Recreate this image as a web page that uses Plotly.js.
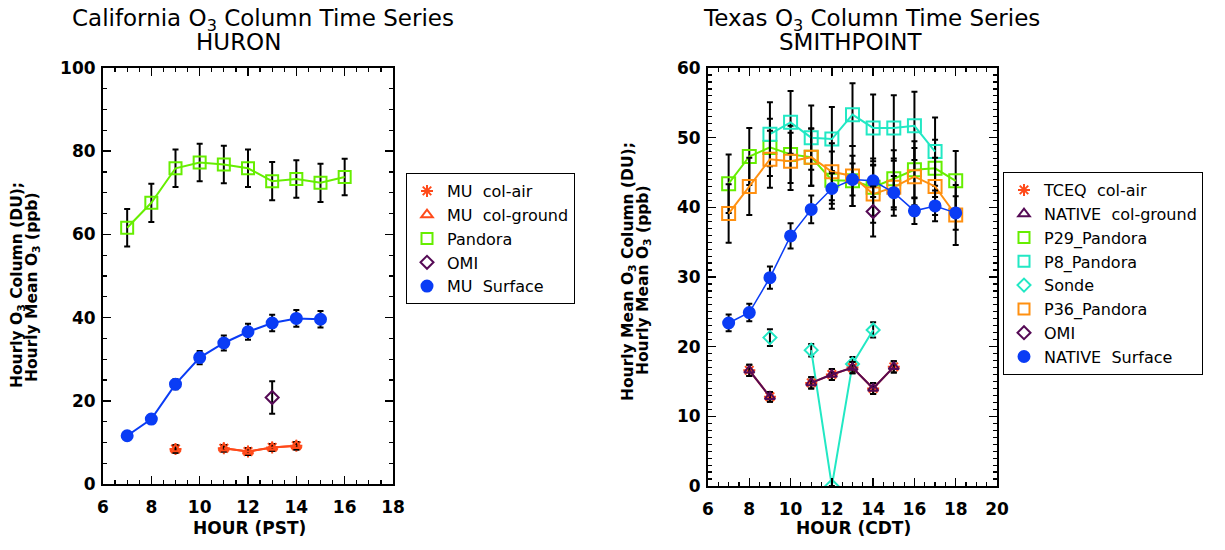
<!DOCTYPE html>
<html>
<head>
<meta charset="utf-8">
<script src="https://cdn.plot.ly/plotly-3.0.1.min.js"></script>
<style>html,body{margin:0;padding:0;background:#fff;}#chart{width:1225px;height:550px;}</style>
</head>
<body>
<div id="chart"></div>
<script>
// ---------- California (HURON) ----------
const caHours = [7, 8, 9, 10, 11, 12, 13, 14, 15, 16];
const caPandora = [61.6, 67.6, 75.9, 77.3, 76.8, 75.9, 72.8, 73.3, 72.4, 73.8];
const caPandoraErr = [4.5, 4.6, 4.5, 4.5, 4.5, 4.5, 4.6, 4.5, 4.6, 4.4];
const caSurfHours = [7, 8, 9, 10, 11, 12, 13, 14, 15];
const caSurface = [11.6, 15.6, 24.0, 30.4, 33.9, 36.6, 38.7, 39.8, 39.6];
const caSurfaceErr = [0.6, 0.7, 1.2, 1.6, 1.8, 1.9, 2.0, 2.0, 2.0];
const caColHours = [9, 10, 11, 12, 13, 14];
const caColAir = [8.4, null, 8.6, 7.8, 8.8, 9.2];
const caColAirErr = [0.9, null, 0.8, 0.8, 0.8, 0.9];
const caColGround = [8.4, null, 8.6, 7.8, 8.8, 9.2];
const caColGroundErr = [0.9, null, 0.8, 0.8, 0.8, 0.9];
const caOmiHours = [13];
const caOmi = [20.8];
const caOmiErr = [3.9];

// ---------- Texas (SMITHPOINT) ----------
const txHours = [7, 8, 9, 10, 11, 12, 13, 14, 15, 16, 17, 18];
const txP29 = [43.4, 47.3, 48.6, 47.6, 47.2, 43.9, 43.8, 42.9, 44.1, 45.4, 45.6, 43.8];
const txP29Err = [4.2, 4.1, 4.1, 4.1, 4.1, 4.1, 3.6, 4.1, 4.1, 4.1, 4.1, 4.3];
const txP36 = [39.1, 43.0, 46.9, 46.6, 47.2, 45.1, 44.5, 41.9, 42.9, 44.4, 43.0, 38.9];
const txP36Err = [4.2, 4.1, 4.1, 4.1, 4.1, 4.1, 4.3, 4.1, 4.1, 4.1, 4.1, 4.3];
const txP8Hours = [9, 10, 11, 12, 13, 14, 15, 16, 17];
const txP8 = [50.5, 52.2, 50.0, 49.8, 53.3, 51.4, 51.4, 51.7, 48.0];
const txP8Err = [4.6, 4.5, 4.6, 4.6, 4.5, 4.8, 4.7, 4.9, 4.9];
const txSurface = [23.4, 24.9, 29.9, 35.9, 39.7, 42.7, 44.0, 43.8, 42.1, 39.5, 40.2, 39.2];
const txSurfaceErr = [1.2, 1.25, 1.6, 1.8, 2.0, 2.2, 2.3, 2.3, 2.4, 1.9, 2.2, 2.4];
const txSondeHours = [9, 10, 11, 12, 13, 14];
const txSonde = [21.3, null, 19.5, 0, 17.5, 22.4];
const txSondeErr = [1.2, null, 0.9, 0, 1.0, 1.1];
const txColHours = [8, 9, 10, 11, 12, 13, 14, 15];
const txColAir = [16.6, 12.8, null, 14.8, 16.0, 17.0, 14.0, 17.1];
const txColAirErr = [0.8, 0.7, null, 0.8, 0.8, 0.8, 0.8, 0.8];
const txColGround = [16.6, 12.8, null, 14.8, 16.0, 17.0, 14.0, 17.1];
const txColGroundErr = [0.8, 0.7, null, 0.8, 0.8, 0.8, 0.8, 0.8];
const txOmiHours = [14];
const txOmi = [39.4];
const txOmiErr = [3.6];

// ---------- styles ----------
const C_RED = '#ff4a1a';
const C_GREEN = '#66ee00';
const C_CYAN = '#22e8c4';
const C_ORANGE = '#ff9010';
const C_PURPLE = '#550a55';
const C_BLUE = '#0a3cf5';
const W = 1225, H = 550;
const px = v => v / W, py = v => 1 - v / H;

function errBar(arr) {
  return {type: 'data', array: arr, visible: true, color: '#000', thickness: 2, width: 3};
}
function tr(xa, ya, x, y, err, mode, color, symbol, size, lw) {
  return {
    x: x, y: y, xaxis: xa, yaxis: ya, mode: mode, showlegend: false,
    connectgaps: false, hoverinfo: 'skip',
    line: {color: color, width: lw},
    marker: {symbol: symbol, size: size, color: color, line: {color: color, width: 2}},
    error_y: errBar(err)
  };
}
function leg(name, legend, symbol, color, size) {
  return {x: [null], y: [null], name: name, mode: 'markers', legend: legend,
    xaxis: legend === 'legend' ? 'x' : 'x2', yaxis: legend === 'legend' ? 'y' : 'y2',
    marker: {symbol: symbol, size: size, color: color, line: {color: color, width: 2}}};
}

const traces = [
  // California
  tr('x', 'y', caHours, caPandora, caPandoraErr, 'lines+markers', C_GREEN, 'square-open', 12, 2),
  tr('x', 'y', caSurfHours, caSurface, caSurfaceErr, 'lines+markers', C_BLUE, 'circle', 11, 2),
  tr('x', 'y', caOmiHours, caOmi, caOmiErr, 'markers', C_PURPLE, 'diamond-open', 10, 2),
  tr('x', 'y', caColHours, caColAir, caColAirErr, 'lines+markers', C_RED, 'asterisk-open', 10, 2),
  tr('x', 'y', caColHours, caColGround, caColGroundErr, 'lines+markers', C_RED, 'triangle-up-open', 9, 2),
  // Texas
  tr('x2', 'y2', txHours, txP29, txP29Err, 'lines+markers', C_GREEN, 'square-open', 13, 2),
  tr('x2', 'y2', txP8Hours, txP8, txP8Err, 'lines+markers', C_CYAN, 'square-open', 13, 2),
  tr('x2', 'y2', txHours, txP36, txP36Err, 'lines+markers', C_ORANGE, 'square-open', 13, 2),
  tr('x2', 'y2', txHours, txSurface, txSurfaceErr, 'lines+markers', C_BLUE, 'circle', 11, 1.5),
  tr('x2', 'y2', txOmiHours, txOmi, txOmiErr, 'markers', C_PURPLE, 'diamond-open', 10, 2),
  tr('x2', 'y2', txSondeHours, txSonde, txSondeErr, 'lines+markers', C_CYAN, 'diamond-open', 10, 2),
  tr('x2', 'y2', txColHours, txColAir, txColAirErr, 'lines+markers', C_RED, 'asterisk-open', 10, 2),
  tr('x2', 'y2', txColHours, txColGround, txColGroundErr, 'lines+markers', C_PURPLE, 'triangle-up-open', 9, 2),
  // legend entries
  leg('MU  col-air', 'legend', 'asterisk-open', C_RED, 10),
  leg('MU  col-ground', 'legend', 'triangle-up-open', C_RED, 10),
  leg('Pandora', 'legend', 'square-open', C_GREEN, 11),
  leg('OMI', 'legend', 'diamond-open', C_PURPLE, 10),
  leg('MU  Surface', 'legend', 'circle', C_BLUE, 11),
  leg('TCEQ  col-air', 'legend2', 'asterisk-open', C_RED, 10),
  leg('NATIVE  col-ground', 'legend2', 'triangle-up-open', C_PURPLE, 10),
  leg('P29_Pandora', 'legend2', 'square-open', C_GREEN, 11),
  leg('P8_Pandora', 'legend2', 'square-open', C_CYAN, 11),
  leg('Sonde', 'legend2', 'diamond-open', C_CYAN, 10),
  leg('P36_Pandora', 'legend2', 'square-open', C_ORANGE, 11),
  leg('OMI', 'legend2', 'diamond-open', C_PURPLE, 10),
  leg('NATIVE  Surface', 'legend2', 'circle', C_BLUE, 11)
];

const tickFont = {family: 'DejaVu Sans', size: 17, color: '#000', weight: 'bold'};
function axis(domain, range, dtick, minorDtick, anchor, isX) {
  return {
    domain: domain, range: range, dtick: dtick, tick0: 0, anchor: anchor,
    showgrid: false, zeroline: false, showline: true, linecolor: '#000', linewidth: 2,
    mirror: 'ticks', ticks: 'inside', ticklen: 8, tickwidth: 1.5, tickcolor: '#000',
    tickfont: tickFont, fixedrange: true, ticklabelstandoff: isX ? 7 : 2,
    minor: {dtick: minorDtick, ticks: 'inside', ticklen: 4, tickwidth: 1.2, tickcolor: '#000', showgrid: false}
  };
}

const titleFont = {family: 'DejaVu Sans', size: 23, color: '#000'};
const boldFont = {family: 'DejaVu Sans', size: 17, color: '#000', weight: 'bold'};
const yFont = {family: 'DejaVu Sans', size: 15.5, color: '#000', weight: 'bold'};
const legFont = {family: 'DejaVu Sans', size: 16, color: '#000'};
function ann(text, x, y, font, angle) {
  return {text: text, x: px(x), y: py(y), xref: 'paper', yref: 'paper', showarrow: false,
    xanchor: 'center', yanchor: 'middle', font: font, textangle: angle || 0};
}

const layout = {
  width: W, height: H,
  margin: {l: 0, r: 0, t: 0, b: 0},
  paper_bgcolor: '#fff', plot_bgcolor: '#fff',
  xaxis: axis([px(103), px(393)], [6, 18], 2, 0.5, 'y', true),
  yaxis: axis([py(484), py(68)], [0, 100], 20, 5, 'x', false),
  xaxis2: axis([px(708), px(997)], [6, 20], 2, 0.5, 'y2', true),
  yaxis2: axis([py(486), py(68)], [0, 60], 10, 1, 'x2', false),
  legend: {x: px(406), y: py(173), xanchor: 'left', yanchor: 'top', bgcolor: '#fff',
    bordercolor: '#000', borderwidth: 1, font: legFont, tracegroupgap: 0, itemclick: false},
  legend2: {x: px(1003), y: py(172), xanchor: 'left', yanchor: 'top', bgcolor: '#fff',
    bordercolor: '#000', borderwidth: 1, font: legFont, tracegroupgap: 0, itemclick: false},
  annotations: [
    ann('California O<sub>3</sub> Column Time Series', 263, 20, titleFont),
    ann('HURON', 238, 42, titleFont),
    ann('Texas O<sub>3</sub> Column Time Series', 871, 20, titleFont),
    ann('SMITHPOINT', 851, 42, titleFont),
    ann('HOUR (PST)', 249, 528, boldFont),
    ann('HOUR (CDT)', 853, 528, boldFont),
    ann('Hourly O<sub>3</sub> Column (DU);', 18, 285, yFont, -90),
    ann('Hourly Mean O<sub>3</sub> (ppb)', 33, 287, yFont, -90),
    ann('Hourly Mean O<sub>3</sub> Column (DU);', 629, 272, yFont, -90),
    ann('Hourly Mean O<sub>3</sub> (ppb)', 644, 280, yFont, -90)
  ]
};

Plotly.newPlot('chart', traces, layout, {displayModeBar: false, staticPlot: true});
</script>
</body>
</html>
